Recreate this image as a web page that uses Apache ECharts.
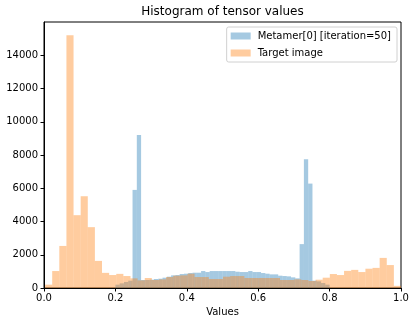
<!DOCTYPE html>
<html>
<head>
<meta charset="utf-8">
<script src="https://cdn.jsdelivr.net/npm/echarts@6/dist/echarts.min.js"></script>
<style>
  html, body { margin: 0; padding: 0; background: #fff; }
  #chart { width: 416px; height: 327px; }
</style>
</head>
<body>
<div id="chart"></div>
<script>
// Metamer[0] histogram: 50 bins over [0.2, 0.8]
const metamerStart = 0.2;
const metamerWidth = 0.012;
const metamerCounts = [
  200, 280, 360, 440, 5900, 9200, 480, 480, 500, 540,
  560, 620, 680, 760, 780, 840, 860, 900, 920, 920,
  1020, 960, 1020, 1020, 1020, 1020, 1020, 1020, 980, 960,
  960, 1020, 960, 960, 900, 860, 820, 820, 740, 720,
  700, 640, 580, 2640, 7750, 6280, 440, 400, 300, 200
];

// Target image histogram: 50 bins over [0.003, 1.0]
const targetStart = 0.003;
const targetWidth = 0.01994;
const targetCounts = [
  200, 1020, 2530, 15200, 4380, 5520, 3660, 1630, 910, 780,
  850, 720, 580, 460, 600, 480, 520, 660, 740, 760,
  860, 660, 660, 540, 540, 680, 720, 720, 600, 600,
  600, 600, 600, 480, 480, 520, 480, 420, 500, 620,
  840, 780, 1030, 1090, 960, 1160, 1210, 1810, 1380, 130
];

const xTicks = [0, 0.2, 0.4, 0.6, 0.8, 1.0];
const yTicks = [0, 2000, 4000, 6000, 8000, 10000, 12000, 14000];

const toBins = (start, width, counts) =>
  counts.map((c, i) => [start + i * width, start + (i + 1) * width, c]);

// one rectangle per bin, placed through the axis scales
const renderBar = (params, api) => {
  const p0 = api.coord([api.value(0), api.value(2)]);
  const p1 = api.coord([api.value(1), 0]);
  return {
    type: 'rect',
    shape: { x: p0[0], y: p0[1], width: p1[0] - p0[0], height: p1[1] - p0[1] },
    style: { fill: api.visual('color') }
  };
};

const font = 'DejaVu Sans';
const chart = echarts.init(document.getElementById('chart'), null, { renderer: 'canvas' });

chart.setOption({
  animation: false,
  backgroundColor: '#fff',
  textStyle: { fontFamily: font },
  title: {
    text: 'Histogram of tensor values',
    left: 222.5,
    top: 6,
    padding: 0,
    textAlign: 'center',
    textStyle: { fontFamily: font, fontSize: 12, fontWeight: 'normal', color: '#000' }
  },
  legend: {
    orient: 'vertical',
    right: 19,
    top: 27,
    padding: [4, 6, 4, 4],
    itemGap: 7,
    itemWidth: 20,
    itemHeight: 7,
    backgroundColor: 'rgba(255,255,255,0.8)',
    borderColor: '#d0d0d0',
    borderWidth: 1,
    borderRadius: 2,
    icon: 'rect',
    textStyle: { fontFamily: font, fontSize: 10, color: '#000', padding: [0, 0, 0, 2] },
    data: ['Metamer[0] [iteration=50]', 'Target image']
  },
  grid: {
    left: 44, right: 15, top: 22, bottom: 39,
    show: true, borderColor: '#000', borderWidth: 1
  },
  xAxis: {
    type: 'value',
    min: 0, max: 1, interval: 0.2,
    name: 'Values',
    nameLocation: 'middle',
    nameGap: 19,
    nameTextStyle: { fontFamily: font, fontSize: 10, color: '#000' },
    axisLine: { show: true, lineStyle: { color: '#000', width: 1 } },
    axisTick: { show: true, length: 3.5, lineStyle: { color: '#000' }, customValues: xTicks },
    axisLabel: {
      margin: 5, fontFamily: font, fontSize: 10, color: '#000',
      customValues: xTicks,
      formatter: v => Number(v).toFixed(1)
    },
    splitLine: { show: false }
  },
  yAxis: {
    type: 'value',
    min: 0, max: 16000, interval: 2000,
    axisLine: { show: true, lineStyle: { color: '#000', width: 1 } },
    axisTick: { show: true, length: 3.5, lineStyle: { color: '#000' }, customValues: yTicks },
    axisLabel: {
      margin: 6, fontFamily: font, fontSize: 10, color: '#000',
      customValues: yTicks,
      formatter: v => String(v)
    },
    splitLine: { show: false }
  },
  series: [
    {
      name: 'Metamer[0] [iteration=50]',
      type: 'custom',
      renderItem: renderBar,
      itemStyle: { color: 'rgba(31,119,180,0.4)' },
      encode: { x: [0, 1], y: 2 },
      data: toBins(metamerStart, metamerWidth, metamerCounts)
    },
    {
      name: 'Target image',
      type: 'custom',
      renderItem: renderBar,
      itemStyle: { color: 'rgba(255,127,14,0.4)' },
      encode: { x: [0, 1], y: 2 },
      data: toBins(targetStart, targetWidth, targetCounts)
    }
  ]
});
</script>
</body>
</html>
